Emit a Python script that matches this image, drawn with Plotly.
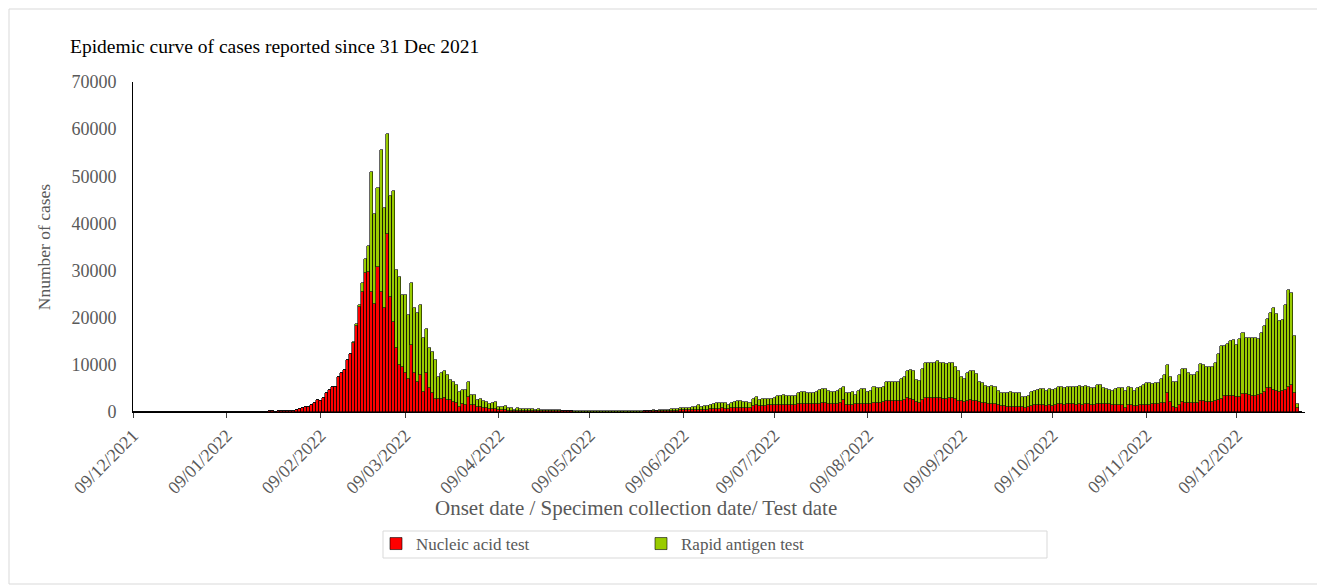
import pandas as pd
import plotly.graph_objects as go

# ---------------- data ----------------
start_date = "2021-12-09"

nucleic_dec21 = [6, 9, 4, 8, 5, 7, 10, 6, 8, 4, 9, 7, 5, 8, 6, 9, 11, 7, 5, 8, 10, 7, 12]
total_dec21 = nucleic_dec21

nucleic_jan22 = [15, 18, 22, 26, 30, 40, 55, 48, 60, 75, 70, 85, 80, 95, 100, 85, 95, 80, 100, 90,
                 75, 95, 110, 120, 105, 130, 140, 160, 180, 220, 280]
total_jan22 = nucleic_jan22

total_feb22 = [420, 640, 780, 990, 1130, 1410, 1840, 2600, 2400, 3000, 4100, 4700, 5200, 5400, 7500,
               8200, 8900, 11000, 12200, 14800, 18600, 22800, 27400, 32500, 35300, 51000, 42000, 47500]
nucleic_feb22 = [420, 640, 780, 990, 1130, 1410, 1840, 2600, 2400, 3000, 4100, 4700, 5200, 5400, 7500,
                 8200, 8900, 11000, 12200, 14600, 18300, 22300, 25500, 29500, 29800, 25500, 23000, 30700]

total_mar22 = [55500, 43200, 59000, 45800, 46800, 30100, 28700, 24800, 24800, 20600, 27300, 22000,
               20900, 22600, 15600, 17700, 13500, 12800, 11000, 7400, 8300, 8700, 7800, 6800, 6400,
               5700, 4300, 4700, 4700, 6400, 3600]
nucleic_mar22 = [25500, 22000, 37800, 24400, 19100, 13500, 10000, 9600, 8200, 7100, 14200, 8300,
                 6400, 7800, 4300, 8300, 5000, 4000, 2700, 2700, 2700, 2900, 2500, 2500, 2200,
                 2000, 1100, 1800, 1500, 3200, 1500]

total_apr22 = [3600, 2500, 2700, 2400, 2200, 1800, 2000, 2200, 1100, 1100, 1300, 800, 800, 500,
               750, 700, 650, 600, 650, 550, 500, 550, 450, 480, 420, 400, 380, 350, 330, 300]
nucleic_apr22 = [1400, 1000, 1100, 900, 800, 700, 700, 700, 500, 400, 400, 300, 300, 200,
                 300, 280, 260, 240, 260, 220, 200, 220, 180, 190, 170, 160, 150, 140, 130, 120]

total_may22 = [280, 260, 270, 240, 250, 230, 240, 220, 230, 210, 220, 200, 210, 190, 200, 210, 190,
               200, 210, 200, 220, 210, 230, 220, 240, 250, 260, 280]
nucleic_may22 = [120, 110, 115, 100, 105, 100, 100, 95, 100, 90, 95, 85, 90, 80, 85, 90, 80,
                 85, 90, 85, 95, 90, 100, 95, 100, 105, 110, 120]

# 29 May 2022 - 8 Oct 2022
total_mid22 = [300, 320, 300, 350, 330, 380,
               500, 560, 700, 700, 780, 920, 780, 920, 1060, 1130, 1400, 1130, 1200, 1270, 1400,
               1700, 1840, 1840, 1840, 1840, 1550, 1980, 2200, 2330, 2260, 2200, 2120,
               1840,
               2700, 3200,
               2550, 2690, 2690, 2690, 2760, 3000, 3400, 3500, 3700, 3460,
               3400, 3500, 3320, 4100, 4300, 4170, 4100, 4030, 4100, 4240,
               4700, 4900, 4900, 4500, 4240, 4240, 4380, 4900, 5200,
               4000, 4000, 4170, 3700, 4450, 4800, 4800, 4200, 4520, 5200,
               5000, 5000, 5400, 6300, 6400, 6400, 6400, 6400, 6900, 7500,
               8600, 9000, 8800, 6800, 6600, 9100, 10300, 10500, 10500, 10300,
               10800, 10500, 10300, 10100, 10500, 10500, 9500, 8600, 7500, 7100,
               8200, 8600, 8800, 8000, 6400, 6100, 5500, 5400, 5600, 5200,
               4450, 4000, 4000, 4100, 4200, 4100, 4000, 4000, 3100, 3250,
               3500, 4300, 4500, 4700, 4800, 4800, 4500, 4800]
nucleic_mid22 = [150, 160, 150, 170, 160, 180,
                 220, 250, 300, 300, 330, 380, 350, 400, 450, 480, 500, 450, 480, 520, 560,
                 650, 700, 720, 750, 720, 650, 780, 850, 900, 880, 850, 820,
                 800,
                 1300, 1500,
                 1300, 1350, 1350, 1400, 1400, 1450, 1500, 1500, 1550, 1500,
                 1500, 1550, 1500, 1700, 1750, 1700, 1650, 1700, 1700, 1750,
                 1800, 1850, 1850, 1700, 1650, 1700, 1750, 1850, 2500,
                 1400, 1500, 1500, 1600, 1700, 1750, 1600, 1650, 1700, 1900,
                 1900, 1950, 2200, 2300, 2250, 2300, 2250, 2300, 2400, 2500,
                 2900, 2800, 2500, 2200, 2000, 2600, 2900, 3000, 3000, 2950,
                 3000, 2900, 2850, 2800, 2900, 2900, 2700, 2400, 2300, 2200,
                 2400, 2500, 2400, 2300, 2100, 2000, 1900, 1800, 1800, 1700,
                 1500, 1300, 1200, 1100, 1100, 1100, 1050, 1000, 1000, 900,
                 1000, 1300, 1400, 1450, 1450, 1400, 1350, 1400]

# 9 Oct 2022 - 30 Dec 2022
total_late22 = [4700, 4900, 5400, 5400, 5000, 5400, 5400, 5400, 5400, 5500,
                5400, 5500, 5200, 5100, 5100, 5800, 5700, 5100, 4800, 4700,
                4400, 4900, 5000, 5000, 4400, 5200, 5000, 4500, 5000, 5400,
                5700, 6100, 6100, 6000, 6200, 6100, 6900, 7800, 10000, 7500,
                6400, 6300, 7800, 9100, 9100, 8200, 7800, 7800, 8400, 10100,
                10000, 9500, 9500, 9600, 10500, 12200, 14100, 14100, 14400, 15100,
                15200, 14200, 15400, 16700, 15800, 15800, 15800, 15800, 15400, 16700,
                18200, 19700, 21100, 22100, 20800, 19300, 19500, 22700, 25900, 25300,
                16100, 1700, 100]
nucleic_late22 = [1270, 1560, 1630, 1630, 1560, 1700, 1630, 1630, 1480, 1630,
                  1560, 1630, 1630, 1480, 1560, 1770, 1700, 1630, 1630, 1630,
                  1480, 1560, 1480, 1560, 850, 1410, 1410, 1270, 1270, 1410,
                  1410, 1480, 1560, 1630, 1700, 1700, 1840, 1980, 3960, 2190,
                  990, 780, 1480, 2190, 1980, 1980, 1910, 1840, 1840, 2330,
                  2330, 2190, 2190, 2190, 2330, 2550, 2760, 3460, 3460, 3460,
                  3390, 3250, 3250, 3820, 3750, 3600, 3460, 3460, 3530, 3750,
                  4170, 5160, 5090, 4670, 4520, 4240, 4520, 4740, 5230, 5730,
                  3960, 780, 50]

tick_dates = ["2021-12-09", "2022-01-09", "2022-02-09", "2022-03-09", "2022-04-09",
              "2022-05-09", "2022-06-09", "2022-07-09", "2022-08-09", "2022-09-09",
              "2022-10-09", "2022-11-09", "2022-12-09"]
tick_labels = ["09/12/2021", "09/01/2022", "09/02/2022", "09/03/2022", "09/04/2022",
               "09/05/2022", "09/06/2022", "09/07/2022", "09/08/2022", "09/09/2022",
               "09/10/2022", "09/11/2022", "09/12/2022"]
y_ticks = [0, 10000, 20000, 30000, 40000, 50000, 60000, 70000]
y_tick_labels = ["0", "10000", "20000", "30000", "40000", "50000", "60000", "70000"]

# ---------------- assemble ----------------
nucleic_acid = (nucleic_dec21 + nucleic_jan22 + nucleic_feb22 + nucleic_mar22 + nucleic_apr22
                + nucleic_may22 + nucleic_mid22 + nucleic_late22)
total_cases = (total_dec21 + total_jan22 + total_feb22 + total_mar22 + total_apr22
               + total_may22 + total_mid22 + total_late22)
rapid_antigen = [t - n for t, n in zip(total_cases, nucleic_acid)]
dates = pd.date_range(start_date, periods=len(nucleic_acid), freq="D")

FONT = "Liberation Serif, Times New Roman, serif"
GREY = "#595959"

fig = go.Figure()
fig.add_trace(go.Bar(x=dates, y=nucleic_acid, name="Nucleic acid test",
                     marker=dict(color="#FF0000", line=dict(color="#000000", width=0.6))))
fig.add_trace(go.Bar(x=dates, y=rapid_antigen, name="Rapid antigen test",
                     marker=dict(color="#99CC00", line=dict(color="#000000", width=0.6))))

# the page body has an 8px margin, so figure pixel = screen pixel - 8
OFF = 8
W, H = 1325 - OFF, 585 - OFF
L, T = 133 - OFF, 82 - OFF
R = W - (1305 - OFF)
B = H - (412 - OFF)
pw, ph = W - L - R, H - T - B


def px_x(p):
    return (p - OFF - L) / pw


def px_y(p):
    return (H - B - (p - OFF)) / ph


fig.update_layout(
    barmode="stack", bargap=0,
    width=W, height=H, autosize=False,
    margin=dict(l=L, r=R, t=T, b=B, pad=0),
    paper_bgcolor="white", plot_bgcolor="white",
    font=dict(family=FONT, color=GREY, size=16),
    title=dict(text="Epidemic curve of cases reported since 31 Dec 2021",
               font=dict(family=FONT, size=19.5, color="#000000"),
               x=(70 - OFF) / W, xanchor="left", xref="container",
               y=1 - (46 - OFF) / H, yanchor="middle", yref="container"),
    xaxis=dict(range=["2021-12-09", "2022-12-31 12:00"], type="date",
               tickmode="array", tickvals=tick_dates, ticktext=tick_labels,
               tickangle=-45, ticks="outside", ticklen=5, tickcolor="#404040",
               tickfont=dict(family=FONT, size=18, color=GREY),
               showline=True, linecolor="#000000", linewidth=1,
               showgrid=False, zeroline=False),
    yaxis=dict(range=[0, 70000], tickmode="array", tickvals=y_ticks, ticktext=y_tick_labels,
               ticks="", ticklabelstandoff=12,
               tickfont=dict(family=FONT, size=18, color=GREY),
               showline=True, linecolor="#000000", linewidth=1,
               showgrid=False, zeroline=False,
               title=dict(text="Nnumber of cases",
                          font=dict(family=FONT, size=17.5, color=GREY), standoff=16)),
    legend=dict(orientation="h", traceorder="normal",
                x=px_x(376), xanchor="left", y=px_y(544), yanchor="middle",
                bgcolor="rgba(0,0,0,0)", borderwidth=0, entrywidth=220, entrywidthmode="pixels",
                font=dict(family=FONT, size=17, color=GREY)),
    annotations=[
        dict(text="Onset date / Specimen collection date/ Test date",
             xref="paper", yref="paper", x=px_x(636), y=px_y(508),
             xanchor="center", yanchor="middle", showarrow=False,
             font=dict(family=FONT, size=21, color=GREY)),
    ],
    shapes=[
        dict(type="rect", xref="paper", yref="paper",
             x0=px_x(383), x1=px_x(1047), y0=px_y(558), y1=px_y(531),
             line=dict(color="#D9D9D9", width=1), fillcolor="rgba(0,0,0,0)", layer="below"),
        dict(type="rect", xref="paper", yref="paper",
             x0=px_x(9), x1=px_x(1322), y0=px_y(584), y1=px_y(9),
             line=dict(color="#D9D9D9", width=1), fillcolor="rgba(0,0,0,0)", layer="below"),
    ],
)

fig.write_html("out.html")
